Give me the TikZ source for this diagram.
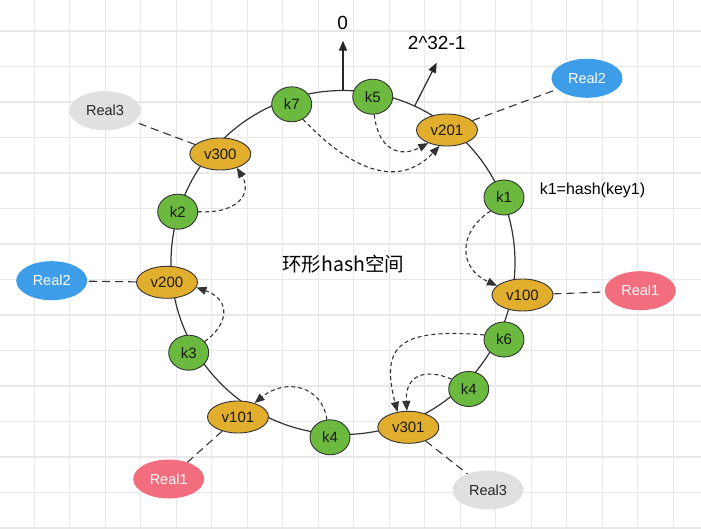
\documentclass[tikz,border=0pt]{standalone}
\usepackage{fontspec}
\setmainfont{Liberation Sans}
\newfontfamily\cjkfont{Noto Sans CJK SC}
\usetikzlibrary{arrows.meta,shapes.geometric}

\definecolor{gridgray}{HTML}{E8E8E8}
\definecolor{inkgray}{HTML}{333333}
\definecolor{keygreen}{HTML}{6BB93E}
\definecolor{vorange}{HTML}{E2AE2D}
\definecolor{realblue}{HTML}{3E9DE8}
\definecolor{realpink}{HTML}{F26E7E}
\definecolor{realgray}{HTML}{E0E0E0}

\tikzset{
  gridline/.style={draw=gridgray, line width=1.3pt},
  ring/.style={draw=inkgray, line width=1.2pt},
  keynode/.style={ellipse, draw=inkgray, line width=0.9pt, fill=keygreen,
    minimum width=40pt, minimum height=35pt, inner sep=0pt,
    font=\fontsize{15}{18}\selectfont, text=black!90},
  vnode/.style={ellipse, draw=inkgray, line width=0.9pt, fill=vorange,
    minimum width=61pt, minimum height=32pt, inner sep=0pt,
    font=\fontsize{15}{18}\selectfont, text=black!90},
  realnode/.style={ellipse, minimum width=71pt, minimum height=39pt, inner sep=0pt,
    font=\fontsize{14.5}{17}\selectfont},
  reallink/.style={draw=inkgray, line width=1.1pt, dash pattern=on 8pt off 5pt},
  keyarrow/.style={draw=inkgray, line width=1.1pt, dash pattern=on 4pt off 3pt,
    -{Triangle[length=10pt,width=8pt]}},
  ptarrow/.style={draw=black!85, line width=1.2pt, -{Triangle[length=10pt,width=8pt]}},
  bigtext/.style={font=\fontsize{19}{22}\selectfont, anchor=base, inner sep=0pt},
}

\begin{document}
\begin{tikzpicture}[x=1pt, y=-1pt]
\useasboundingbox (0,0) rectangle (701,529);
\fill[white] (0,0) rectangle (701,529);

% background grid
\foreach \k in {1,...,19}
  \draw[gridline] ({35.5*\k-1.2},0) -- ({35.5*\k-1.2},529);
\foreach \k in {0,...,14}
  \draw[gridline] (0,{31+35.5*\k}) -- (701,{31+35.5*\k});

% the hash ring
\draw[ring] (343,262.5) circle[radius=172];
\coordinate (ringtop) at (343,90.5);
\coordinate (ringend) at (414.6,106.1);
\coordinate (zerotip) at (343,40.7);
\coordinate (maxtip) at (436.7,62.7);

% ring origin / end markers
\draw[ptarrow] (ringtop) -- (zerotip);
\draw[ptarrow] (ringend) -- (maxtip);
\node[bigtext] (zerolbl) at (342.7,30) {0};
\node[bigtext] (maxlbl) at (436.7,50) {2\textasciicircum{}32-1};

% virtual nodes
\node[vnode] (v201) at (447,130) {v201};
\node[vnode] (v100) at (522.5,295) {v100};
\node[vnode] (v301) at (408.3,427.3) {v301};
\node[vnode] (v101) at (238,417) {v101};
\node[vnode] (v200) at (167,282.3) {v200};
\node[vnode] (v300) at (220.3,154) {v300};

% keys
\node[keynode] (k7) at (291.7,104.3) {k7};
\node[keynode] (k5) at (372.7,96.7) {k5};
\node[keynode] (k1) at (504,197.5) {k1};
\node[keynode] (k6) at (504,339.5) {k6};
\node[keynode] (k4r) at (468.7,389) {k4};
\node[keynode] (k4b) at (330,437.3) {k4};
\node[keynode] (k3) at (188.7,352.7) {k3};
\node[keynode] (k2) at (177.7,211.7) {k2};

% real nodes
\node[realnode, fill=realgray, text=black!85] (r3a) at (105,110.7) {Real3};
\node[realnode, fill=realblue, text=white] (r2a) at (587,78.3) {Real2};
\node[realnode, fill=realpink, text=white] (r1a) at (640.3,290.7) {Real1};
\node[realnode, fill=realgray, text=black!85] (r3b) at (488,490) {Real3};
\node[realnode, fill=realpink, text=white] (r1b) at (168.7,479) {Real1};
\node[realnode, fill=realblue, text=white] (r2b) at (51.7,280.7) {Real2};

% virtual node -> real node
\draw[reallink] (v300) -- (r3a);
\draw[reallink] (v201) -- (r2a);
\draw[reallink] (v100) -- (r1a);
\draw[reallink] (v301) -- (r3b);
\draw[reallink] (v101) -- (r1b);
\draw[reallink] (v200) -- (r2b);

% key -> next virtual node clockwise
\draw[keyarrow] (k5.-85) .. controls (378,150) and (400,158) .. (v201.215);
\draw[keyarrow] (k7.-53) .. controls (375,195) and (415,172) .. (v201.245);
\draw[keyarrow] (k2.east) .. controls (240,214) and (252,192) .. (v300.-40);
\draw[keyarrow] (k1.225) .. controls (458,232) and (458,268) .. (v100.160);
\draw[keyarrow] (k3.35) .. controls (228,325) and (232,300) .. (v200.-10);
\draw[keyarrow] (k4b.100) .. controls (322,385) and (285,378) .. (v101.40);
\draw[keyarrow] (k6.167) .. controls (400,328) and (380,345) .. (v301.125);
\draw[keyarrow] (k4r.150) .. controls (425,368) and (405,375) .. (v301.95);

% labels
\node[anchor=base, inner sep=0pt, font=\fontsize{16}{19}\selectfont] (hashlbl) at (592.5,195) {k1=hash(key1)};
\node[anchor=base, inner sep=0pt, font=\fontsize{19.5}{23}\selectfont\cjkfont] (ringlbl) at (343.3,271.5) {环形hash空间};
\end{tikzpicture}
\end{document}
